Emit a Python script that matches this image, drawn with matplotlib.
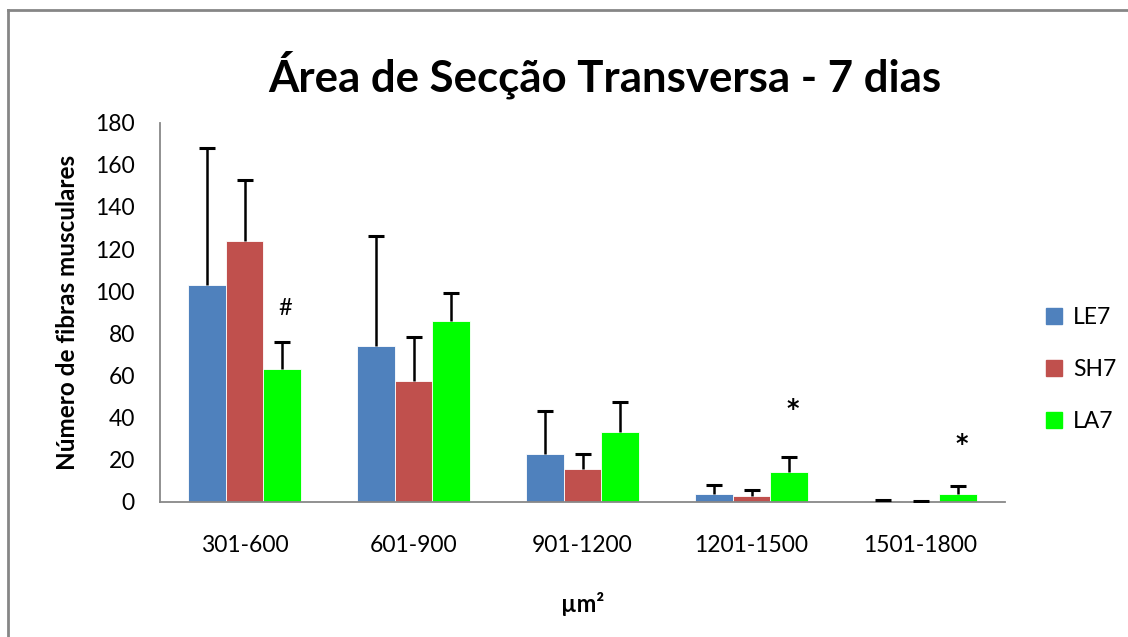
import matplotlib
matplotlib.use("Agg")
import matplotlib.pyplot as plt
import numpy as np
from matplotlib.patches import Rectangle
from matplotlib.lines import Line2D

plt.rcParams['font.family'] = ['Lato', 'DejaVu Sans']

categories = ["301-600", "601-900", "901-1200", "1201-1500", "1501-1800"]
series = ["LE7", "SH7", "LA7"]
colors = ["#4f81bd", "#c0504d", "#00ff00"]

le7 = [103, 74, 23, 4, 0.3]
sh7 = [124, 57.5, 15.7, 3, 0.2]
la7 = [63, 86, 33, 14, 4]

le7_err = [65, 52, 20, 4, 0.6]
sh7_err = [29, 21, 7, 2.5, 0.5]
la7_err = [13, 13, 14.5, 7.3, 3.4]

# significance marks: (category index, series index, y position, symbol)
marks = [(0, 2, 92, "#"), (3, 2, 44, "*"), (4, 2, 27.5, "*")]

values = [le7, sh7, la7]
errors = [le7_err, sh7_err, la7_err]

fig = plt.figure(figsize=(11.28, 6.37), dpi=100)
ax = fig.add_axes([160 / 1128, 135 / 637, 845 / 1128, 379.3 / 637])

x = np.arange(len(categories))
width = 0.222
for i, (vals, errs, col) in enumerate(zip(values, errors, colors)):
    pos = x + (i - 1) * width
    ax.bar(pos, vals, width, color=col, edgecolor="white", linewidth=0.6,
           label=series[i], zorder=2)
    eb = ax.errorbar(pos, vals, yerr=[np.zeros(len(errs)), errs], fmt="none",
                     ecolor="black", elinewidth=1.8, capsize=5.5, capthick=2.2,
                     zorder=3)
    # keep only the upper cap of each one-sided error bar
    eb[1][0].set_visible(False)

for ci, si, yv, sym in marks:
    if sym == "*":
        ax.text(x[ci] + (si - 1) * width + 0.02, yv, sym, ha="center",
                va="center", fontsize=17, fontweight="bold",
                family="DejaVu Sans", color="black")
    else:
        ax.text(x[ci] + (si - 1) * width + 0.02, yv, sym, ha="center",
                va="center", fontsize=17, color="black")

ax.set_xlim(-0.5, len(categories) - 0.5)
ax.set_ylim(0, 180)
ax.set_yticks(np.arange(0, 181, 20))
ax.set_xticks(x)
ax.set_xticklabels(categories)
ax.tick_params(axis="y", length=0, labelsize=16.5, pad=18, labelcolor="black")
ax.tick_params(axis="x", length=0, labelsize=16.5, pad=24, labelcolor="black")

for side in ["top", "right"]:
    ax.spines[side].set_visible(False)
for side in ["left", "bottom"]:
    ax.spines[side].set_color("#888888")
    ax.spines[side].set_linewidth(1.3)

ax.set_ylabel("Número de fibras musculares", fontsize=17.5, fontweight="bold",
              labelpad=12)
ax.set_xlabel("µm²", fontsize=17, fontweight="bold", labelpad=26)

fig.text(0.536, 0.882, "Área de Secção Transversa - 7 dias", ha="center",
         va="center", fontsize=31.5, fontweight="bold")

handles = [Rectangle((0, 0), 1, 1, color=c) for c in colors]
fig.legend(handles, series, loc="center left", bbox_to_anchor=(1025 / 1128, 0.42),
           frameon=False, fontsize=16.5, handlelength=0.7, handleheight=0.7,
           labelspacing=1.35, handletextpad=0.5)

# chart area border (left and top edges fall inside the canvas)
fig.add_artist(Line2D([8 / 1128, 8 / 1128], [0, 1 - 10 / 637],
                      transform=fig.transFigure, color="#868686", lw=2))
fig.add_artist(Line2D([8 / 1128, 1], [1 - 10 / 637, 1 - 10 / 637],
                      transform=fig.transFigure, color="#868686", lw=2))

fig.savefig("out.png", dpi=100)
